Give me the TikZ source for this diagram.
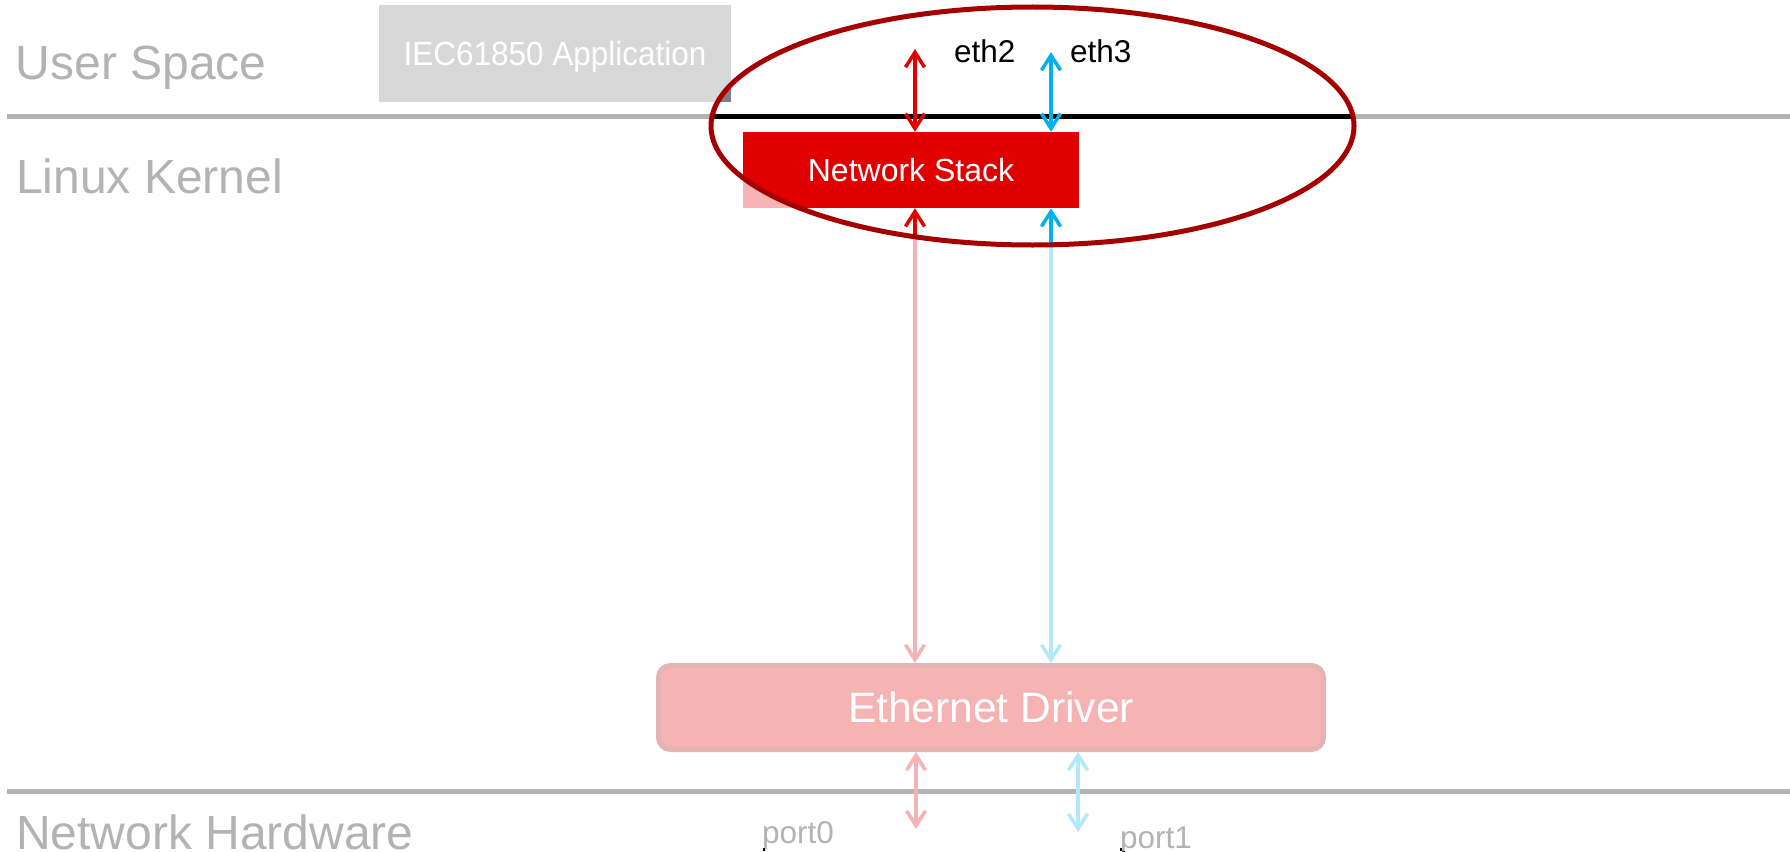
\documentclass[tikz,border=0pt]{standalone}
\usepackage{fontspec}
\setmainfont{Liberation Sans}
\newfontfamily\narrowsans[FakeStretch=0.94]{Liberation Sans}
\usetikzlibrary{arrows.meta}

\definecolor{stackred}{HTML}{E00000}
\definecolor{linkblue}{HTML}{00B0F0}
\definecolor{appgray}{HTML}{7F7F7F}
\definecolor{ringred}{HTML}{A50000}

\begin{document}
\begin{tikzpicture}[x=1pt,y=-1pt,
  lanerule/.style={line width=5pt},
  lanelabel/.style={anchor=base west, inner sep=0pt, font=\fontsize{48}{48}\selectfont},
  appbox/.style={fill=appgray, minimum width=352pt, minimum height=97pt, inner sep=0pt,
    text=white, text depth=0pt, font=\narrowsans\fontsize{33.5}{33.5}\selectfont},
  stackbox/.style={fill=stackred, minimum width=336pt, minimum height=76pt, inner sep=0pt,
    text=white, font=\fontsize{32}{32}\selectfont},
  drvbox/.style={fill=stackred, draw=ringred, line width=5pt, rounded corners=12pt,
    minimum width=665pt, minimum height=84pt, inner sep=0pt,
    text=white, font=\fontsize{42.5}{42.5}\selectfont},
  ethlabel/.style={anchor=base west, inner sep=0pt, font=\fontsize{31.5}{31.5}\selectfont},
  portlabel/.style={anchor=base west, inner sep=0pt, font=\fontsize{31.5}{31.5}\selectfont},
  link/.style={line width=3.5pt, >={Straight Barb[length=15pt,width=19pt]}, <->},
  focusring/.style={draw=ringred, line width=5pt}
]
\useasboundingbox (0,0) rectangle (1790,851);
\fill[white] (0,0) rectangle (1790,851);

% layer separators
\draw[lanerule] (7,116.5) -- (1790,116.5);
\draw[lanerule] (7,791.5) -- (1790,791.5);

% layer names
\node[lanelabel] (user) at (15.5,79) {User Space};
\node[lanelabel] (kernel) at (16,193) {Linux Kernel};
\node[lanelabel] (hw) at (16,849) {Network Hardware};

% components
\node[appbox] (app) at (555,53.5) {IEC61850 Application};
\node[stackbox] (ns) at (911,170) {Network Stack};
\node[drvbox] (drv) at (991,707.5) {Ethernet Driver};

% interface and port names
\node[ethlabel] (eth2) at (954,63) {eth2};
\node[ethlabel] (eth3) at (1070,63) {eth3};
\node[portlabel] (p0) at (762,843) {port0};
\node[portlabel] (p1) at (1120,848) {port1};

% free ends of the data paths
\coordinate (eth2end) at (915,49);
\coordinate (eth3end) at (1051,52);
\coordinate (p0end) at (916,829);
\coordinate (p1end) at (1078,832);

% data paths
\draw[link,stackred] (eth2end) -- (eth2end |- ns.north);
\draw[link,linkblue] (eth3end) -- (eth3end |- ns.north);
\draw[link,stackred] (eth2end |- ns.south) -- (eth2end |- drv.north);
\draw[link,linkblue] (eth3end |- ns.south) -- (eth3end |- drv.north);
\draw[link,stackred] (p0end |- drv.south) -- (p0end);
\draw[link,linkblue] (p1end |- drv.south) -- (p1end);

% dim everything outside the highlighted region
\coordinate (focus) at (1032.5,126);
\fill[white, fill opacity=0.7, even odd rule]
  (0,0) rectangle (1790,851)
  (focus) ellipse [x radius=321.5pt, y radius=119pt];
\draw[focusring] (focus) ellipse [x radius=321.5pt, y radius=119pt];

% marks at the lower edge
\draw[line width=2pt] (764,848) -- (764,851);
\draw[line width=2pt] (1121,848) -- (1121,851);
\end{tikzpicture}
\end{document}
